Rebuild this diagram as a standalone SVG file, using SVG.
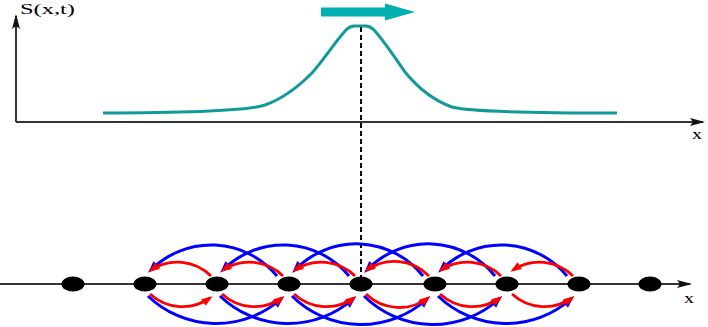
<svg xmlns="http://www.w3.org/2000/svg" width="708" height="327" viewBox="0 0 708 327">
<style>
.axis{stroke:#333;stroke-width:2;fill:none}
.lbl{font-family:"Liberation Serif","Times New Roman",serif;fill:#000}
.red{stroke:#ff0000;stroke-width:2.8;fill:none;marker-end:url(#hr)}
.blue{stroke:#0000ff;stroke-width:3;fill:none;marker-end:url(#hb)}
.node{fill:#000}
</style>
<defs>
<marker id="ax" markerUnits="userSpaceOnUse" markerWidth="16" markerHeight="9" refX="13" refY="4" orient="auto" overflow="visible">
<path d="M0,0 L15,4 L0,8 L3,4 z" fill="#111"/>
</marker>
<marker id="hr" markerUnits="userSpaceOnUse" markerWidth="12" markerHeight="9" refX="8" refY="4" orient="auto" overflow="visible">
<path d="M0,0 L11,4 L0,8 z" fill="#ff0000"/>
</marker>
<marker id="hb" markerUnits="userSpaceOnUse" markerWidth="13" markerHeight="10" refX="8" refY="4.5" orient="auto" overflow="visible">
<path d="M0,0 L12,4.5 L0,9 z" fill="#0000ff"/>
</marker>
</defs>

<g id="top-plot">
<line class="axis" x1="16" y1="122" x2="16" y2="16" marker-end="url(#ax)"/>
<line class="axis" x1="16" y1="122" x2="703" y2="122" marker-end="url(#ax)"/>
<text class="lbl" x="20" y="13.5" font-size="14" textLength="55" lengthAdjust="spacingAndGlyphs">S(x,t)</text>
<text class="lbl" x="692" y="139" font-size="14" textLength="10" lengthAdjust="spacingAndGlyphs">x</text>
<path d="M103,113 C200,113 250,110 265,105 C285,98 300,85 312,73 C325,58 335,42 346,30 Q350,26 354,26 L366,26 Q370,26 374,30 C385,42 395,58 405,72 C418,88 432,100 452,107 C470,112 540,113 617,113" fill="none" stroke="#129a9a" stroke-width="3" stroke-linejoin="round"/>
<path d="M321,7.5 L385,7.5 L385,3.5 L415,12 L385,20.5 L385,16.5 L321,16.5 z" fill="#00b0b0"/>
<line x1="361" y1="27" x2="361" y2="277" stroke="#000" stroke-width="2" stroke-dasharray="5,3"/>
</g>

<g id="chain-axis">
<line class="axis" x1="0" y1="284" x2="690" y2="284" stroke-width="1.8" marker-end="url(#ax)"/>
<text class="lbl" x="684" y="303" font-size="14" textLength="10" lengthAdjust="spacingAndGlyphs">x</text>
</g>

<g id="connectors">
<path class="blue" d="M277,276 A85,85 0 0 0 151,270"/>
<path class="blue" d="M349,276 A85,85 0 0 0 223,270"/>
<path class="blue" d="M423,276 A85,85 0 0 0 295,270"/>
<path class="blue" d="M495,276 A85,85 0 0 0 367,270"/>
<path class="blue" d="M567,276 A85,85 0 0 0 441,270"/>
<path class="blue" d="M148,296 A98,98 0 0 0 281,299"/>
<path class="blue" d="M220,296 A98,98 0 0 0 353,299"/>
<path class="blue" d="M292,296 A98,98 0 0 0 427,299"/>
<path class="blue" d="M364,296 A98,98 0 0 0 499,299"/>
<path class="blue" d="M438,296 A98,98 0 0 0 571,299"/>
<path class="red" d="M211,276 A48,48 0 0 0 151,270"/>
<path class="red" d="M283,276 A48,48 0 0 0 223,270"/>
<path class="red" d="M355,276 A48,48 0 0 0 295,270"/>
<path class="red" d="M429,276 A48,48 0 0 0 367,270"/>
<path class="red" d="M501,276 A48,48 0 0 0 441,270"/>
<path class="red" d="M573,276 A48,48 0 0 0 513,270"/>
<path class="red" d="M150,294 A48,48 0 0 0 210,298"/>
<path class="red" d="M222,294 A48,48 0 0 0 282,298"/>
<path class="red" d="M294,294 A48,48 0 0 0 354,298"/>
<path class="red" d="M366,294 A48,48 0 0 0 428,298"/>
<path class="red" d="M440,294 A48,48 0 0 0 500,298"/>
<path class="red" d="M512,294 A48,48 0 0 0 572,298"/>
</g>

<g id="n0"><ellipse class="node" cx="73" cy="284" rx="11.5" ry="7.5"/></g>
<g id="n1"><ellipse class="node" cx="145" cy="284" rx="11.5" ry="7.5"/></g>
<g id="n2"><ellipse class="node" cx="217" cy="284" rx="11.5" ry="7.5"/></g>
<g id="n3"><ellipse class="node" cx="289" cy="284" rx="11.5" ry="7.5"/></g>
<g id="n4"><ellipse class="node" cx="361" cy="284" rx="11.5" ry="7.5"/></g>
<g id="n5"><ellipse class="node" cx="435" cy="284" rx="11.5" ry="7.5"/></g>
<g id="n6"><ellipse class="node" cx="507" cy="284" rx="11.5" ry="7.5"/></g>
<g id="n7"><ellipse class="node" cx="579" cy="284" rx="11.5" ry="7.5"/></g>
<g id="n8"><ellipse class="node" cx="650" cy="284" rx="11.5" ry="7.5"/></g>
</svg>
